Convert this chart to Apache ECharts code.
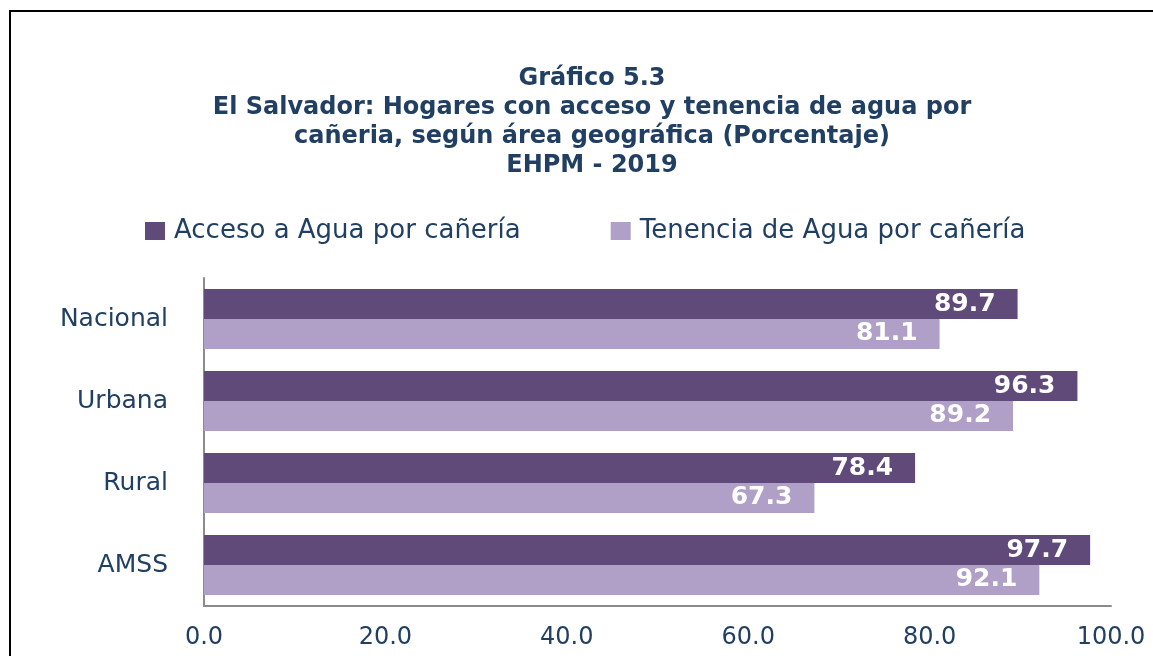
<!DOCTYPE html>
<html>
<head>
<meta charset="utf-8">
<script src="https://cdn.jsdelivr.net/npm/echarts@6/dist/echarts.min.js"></script>
<style>
  html, body { margin: 0; padding: 0; background: #fff; }
  #chart { width: 1153px; height: 656px; }
</style>
</head>
<body>
<div id="chart"></div>
<script>
    var areas = ['Nacional', 'Urbana', 'Rural', 'AMSS'];
    var acceso = [89.7, 96.3, 78.4, 97.7];
    var tenencia = [81.1, 89.2, 67.3, 92.1];
    var xTicks = [0, 20, 40, 60, 80, 100];

    var navy = '#203f63';
    var font = 'DejaVu Sans';

    // etiqueta blanca dentro de la barra
    var barLabel = {
        show: true,
        position: 'insideRight',
        distance: 22,
        color: '#fff',
        fontWeight: 'bold',
        fontSize: 25,
        formatter: function (p) { return p.value.toFixed(1); }
    };

    var myChart = echarts.init(document.getElementById('chart'));
    var option = {
        backgroundColor: '#fff',
        textStyle: { fontFamily: font },
        title: {
            text: 'Gráfico 5.3\nEl Salvador: Hogares con acceso y tenencia de agua por\ncañeria, según área geográfica (Porcentaje)\nEHPM - 2019',
            left: 587,
            top: 59,
            textAlign: 'center',
            textStyle: {
                color: navy,
                fontSize: 24,
                fontWeight: 'bold',
                lineHeight: 29,
                fontFamily: font
            }
        },
        legend: {
            data: ['Acceso a Agua por cañería', 'Tenencia de Agua por cañería'],
            left: 140,
            top: 213,
            itemWidth: 20,
            itemHeight: 18,
            itemGap: 90,
            icon: 'rect',
            textStyle: { color: navy, fontSize: 26, fontFamily: font, padding: [0, 0, 0, 4] }
        },
        grid: {
            left: 204,
            right: 42,
            top: 278,
            bottom: 50,
            containLabel: false
        },
        xAxis: {
            type: 'value',
            min: 0,
            max: 100,
            interval: 20,
            axisLine: { show: true, lineStyle: { color: '#8c8c8c', width: 2 } },
            axisTick: { show: false },
            splitLine: { show: false },
            axisLabel: {
                color: navy,
                fontSize: 24,
                margin: 20,
                formatter: function (v) {
                    return xTicks.indexOf(v) >= 0 ? v.toFixed(1) : '';
                }
            }
        },
        yAxis: {
            type: 'category',
            data: areas,
            inverse: true,
            axisLine: { show: true, lineStyle: { color: '#8c8c8c', width: 2 } },
            axisTick: { show: false },
            axisLabel: { color: navy, fontSize: 25, margin: 36 }
        },
        series: [
            {
                name: 'Acceso a Agua por cañería',
                type: 'bar',
                data: acceso,
                barGap: '0%',
                barCategoryGap: '27%',
                itemStyle: { color: '#5f4a7a' },
                label: barLabel
            },
            {
                name: 'Tenencia de Agua por cañería',
                type: 'bar',
                data: tenencia,
                itemStyle: { color: '#b09fc6' },
                label: barLabel
            }
        ],
        graphic: [
            {
                type: 'rect',
                shape: { x: 10, y: 11, width: 1200, height: 700 },
                style: { fill: 'none', stroke: '#000', lineWidth: 2 },
                silent: true
            }
        ]
    };
    myChart.setOption(option);
</script>
</body>
</html>
